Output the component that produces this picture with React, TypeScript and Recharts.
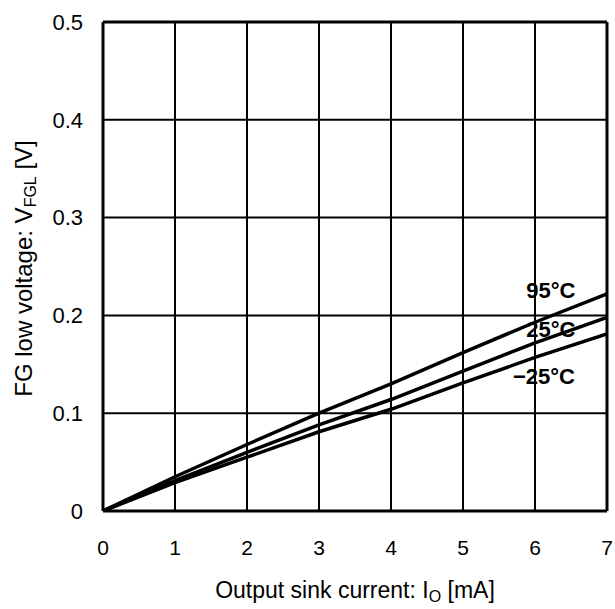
import React from 'react';
import {
  LineChart,
  Line,
  XAxis,
  YAxis,
  CartesianGrid,
  ReferenceDot,
  ReferenceLine,
  Label,
} from 'recharts';

const currents = [0, 1, 2, 3, 4, 5, 6, 7];
const v95 = [0, 0.035, 0.068, 0.1, 0.13, 0.162, 0.193, 0.222];
const v25 = [0, 0.031, 0.06, 0.088, 0.114, 0.143, 0.172, 0.198];
const vMinus25 = [0, 0.029, 0.055, 0.081, 0.104, 0.131, 0.157, 0.181];

const xTicks = [0, 1, 2, 3, 4, 5, 6, 7];
const yTicks = [0, 0.1, 0.2, 0.3, 0.4, 0.5];

const tempLabels = [
  { text: '95°C', x: 6.22, y: 0.226 },
  { text: '25°C', x: 6.22, y: 0.186 },
  { text: '\u221225°C', x: 6.125, y: 0.138 },
];

const data = currents.map((c, i) => ({
  x: c,
  t95: v95[i],
  t25: v25[i],
  tm25: vMinus25[i],
}));

const FONT = "Arial, 'Liberation Sans', sans-serif";

const XTitle = (props: any) => {
  const vb = props.viewBox || {};
  const cx = vb.x + vb.width / 2;
  return (
    <text x={cx} y={598} textAnchor="middle" fontFamily={FONT} fontSize={23} fill="#000">
      <tspan>Output sink current: I</tspan>
      <tspan fontSize={16} dy={4}>O</tspan>
      <tspan dy={-4}> [mA]</tspan>
    </text>
  );
};

const YTitle = (props: any) => {
  const vb = props.viewBox || {};
  const cy = vb.y + vb.height / 2 + 2;
  const bx = 32;
  return (
    <text
      x={bx}
      y={cy}
      transform={`rotate(-90, ${bx}, ${cy})`}
      textAnchor="middle"
      fontFamily={FONT}
      fontSize={24}
      fill="#000"
    >
      <tspan>FG low voltage: V</tspan>
      <tspan fontSize={16} dy={4}>FGL</tspan>
      <tspan dy={-4}> [V]</tspan>
    </text>
  );
};

export default function App() {
  return (
    <div style={{ position: 'absolute', left: 0, top: 0, width: 615, height: 609, background: '#fff' }}>
      <LineChart
        width={615}
        height={609}
        data={data}
        margin={{ top: 22, right: 8, bottom: 48, left: 0 }}
      >
        <CartesianGrid stroke="#000" strokeWidth={2} horizontalValues={yTicks} verticalValues={xTicks} />
        <XAxis
          dataKey="x"
          type="number"
          domain={[0, 7]}
          ticks={xTicks}
          tickSize={0}
          tickMargin={29}
          height={50}
          axisLine={{ stroke: '#000', strokeWidth: 3 }}
          tickLine={false}
          tick={{ fill: '#000', fontSize: 21, fontFamily: FONT }}
          allowDataOverflow
        >
          <Label content={XTitle} />
        </XAxis>
        <YAxis
          type="number"
          domain={[0, 0.5]}
          ticks={yTicks}
          tickFormatter={(v: number) => (v === 0 ? '0' : v.toFixed(1))}
          tickSize={0}
          tickMargin={20}
          width={103}
          axisLine={{ stroke: '#000', strokeWidth: 3 }}
          tickLine={false}
          tick={{ fill: '#000', fontSize: 22, fontFamily: FONT }}
          allowDataOverflow
        >
          <Label content={YTitle} />
        </YAxis>
        <ReferenceLine y={0.5} stroke="#000" strokeWidth={3} />
        <ReferenceLine x={7} stroke="#000" strokeWidth={3} />
        <Line type="linear" dataKey="t95" stroke="#000" strokeWidth={3.5} dot={false} isAnimationActive={false} />
        <Line type="linear" dataKey="t25" stroke="#000" strokeWidth={3.5} dot={false} isAnimationActive={false} />
        <Line type="linear" dataKey="tm25" stroke="#000" strokeWidth={3.5} dot={false} isAnimationActive={false} />
        {tempLabels.map((l) => (
          <ReferenceDot
            key={l.text}
            x={l.x}
            y={l.y}
            r={0}
            fill="none"
            stroke="none"
            label={{
              value: l.text,
              position: 'center',
              fill: '#000',
              fontSize: 22,
              fontWeight: 'bold',
              fontFamily: FONT,
            }}
          />
        ))}
      </LineChart>
    </div>
  );
}
